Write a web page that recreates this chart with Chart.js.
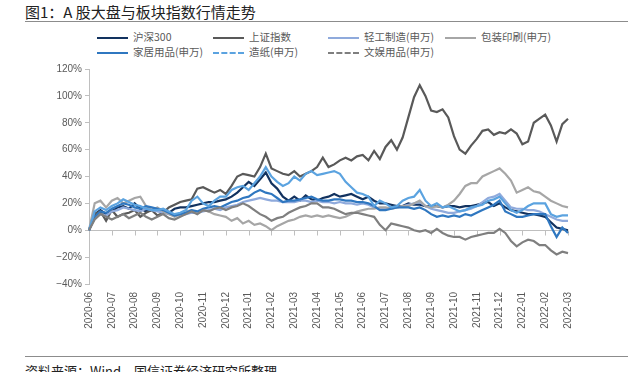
<!DOCTYPE html>
<html>
<head>
<meta charset="utf-8">
<script src="https://cdn.jsdelivr.net/npm/chart.js@4.4.0/dist/chart.umd.min.js"></script>
<style>
  body { margin:0; width:628px; height:372px; overflow:hidden; background:#fff; position:relative; font-family:"Noto Sans CJK SC", sans-serif; }
  #title { position:absolute; left:25px; top:2px; font-size:15px; line-height:20px; color:#222; white-space:nowrap; }
  .rule { position:absolute; left:25px; right:0; height:0; border-top:1px solid #8c8c8c; }
  .item { position:absolute; height:14px; line-height:14px; font-size:10.5px; color:#595959; white-space:nowrap; }
  .item i { display:inline-block; width:31px; height:0; border-top-width:2px; border-top-style:solid; vertical-align:middle; margin-right:5px; }
  #wrap { position:absolute; left:0; top:60px; width:628px; height:290px; }
  #footer { position:absolute; left:25px; top:363px; font-size:13px; line-height:16px; color:#222; white-space:nowrap; }
</style>
</head>
<body>
<div id="title">图1：A 股大盘与板块指数行情走势</div>
<div class="rule" style="top:21px"></div>
<div id="legend"></div>
<div id="wrap"><canvas id="chart"></canvas></div>
<div class="rule" style="top:356px"></div>
<div id="footer">资料来源：Wind，国信证券经济研究所整理</div>
<script>
// --- data (roughly weekly, 4 points per month, starting 2020-06) ---
const months = ['2020-06','2020-07','2020-08','2020-09','2020-10','2020-11','2020-12',
  '2021-01','2021-02','2021-03','2021-04','2021-05','2021-06','2021-07','2021-08',
  '2021-09','2021-10','2021-11','2021-12','2022-01','2022-02','2022-03'];
const yTicks = [-40, -20, 0, 20, 40, 60, 80, 100, 120];

const hs300 = [0,12,15,12, 14,17,18,16, 20,16,14,15, 16,15,13,16, 17,17,18,19, 20,21,21,22,
  23,25,28,32, 36,33,38,43, 35,31,25,22, 25,22,26,23, 22,24,25,27, 25,26,27,25,
  23,25,22,20, 20,19,18,18, 20,19,19,18, 18,18,17,18, 18,17,18,18, 19,20,21,18,
  20,17,15,14, 13,12,12,11, 10,6,2,1, 0];
const shIndex = [0,12,14,7, 15,10,12,13, 15,10,13,15, 11,13,17,19, 21,22,23,31, 32,30,28,30,
  27,33,40,42, 41,40,47,57, 46,44,42,41, 44,40,42,44, 47,54,47,49, 52,54,52,55,
  56,52,59,53, 62,67,60,69, 84,99,108,100, 89,88,90,84, 70,60,57,63, 68,74,75,71,
  73,72,75,72, 64,66,80,83, 86,78,66,79, 83];
const lightInd = [0,9,12,11, 14,15,17,16, 15,14,16,15, 14,13,12,11, 11,12,13,13, 14,15,16,15,
  17,18,19,21, 22,23,24,23, 22,22,21,21, 21,22,22,21, 22,21,21,20, 21,20,20,19,
  20,19,17,16, 16,17,17,18, 19,20,21,18, 16,15,14,13, 13,14,15,16, 18,21,24,25,
  27,22,17,16, 16,15,15,14, 12,10,8,7, 7];
const packing = [0,20,22,17, 22,24,20,22, 24,25,18,15, 17,14,12,10, 12,14,15,13, 15,14,12,11,
  10,7,9,5, 7,4,5,3, 0,3,5,7, 8,10,11,10, 11,10,11,10, 9,10,12,14,
  15,16,16,17, 17,16,17,18, 18,20,22,18, 17,18,17,19, 22,27,33,35, 35,40,42,44,
  46,42,37,28, 30,32,29,28, 25,22,20,18, 17];
const homeGoods = [0,10,14,13, 16,18,20,19, 17,16,18,17, 16,15,13,11, 12,13,15,14, 16,17,18,17,
  19,21,22,24, 25,28,30,28, 27,24,21,22, 22,23,24,25, 23,22,22,23, 23,22,22,21,
  21,20,18,15, 15,16,17,17, 17,16,17,15, 12,10,11,10, 11,10,12,11, 13,15,17,19,
  22,14,12,10, 10,11,12,12, 12,3,-5,2, -2];
const paper = [0,14,17,15, 18,20,23,21, 19,18,16,15, 15,16,14,12, 13,15,22,25, 20,18,22,25,
  25,30,32,33, 30,35,40,47, 40,36,33,35, 40,37,42,44, 41,42,43,44, 42,36,32,28,
  27,25,18,22, 20,17,18,22, 24,25,30,22, 18,20,17,18, 16,14,15,17, 18,19,22,23,
  25,20,15,13, 15,18,20,20, 20,12,10,11, 11];
const stationery = [0,8,12,10, 8,10,12,9, 11,13,10,8, 10,12,9,8, 10,12,14,12, 15,14,16,17,
  15,17,18,20, 18,15,12,10, 7,9,10,13, 15,17,18,20, 20,17,17,16, 14,12,13,13,
  12,11,10,4, 0,5,4,3, 2,0,-1,0, -2,1,-2,-4, -5,-5,-7,-5, -4,-3,-2,-2,
  1,-2,-8,-12, -9,-7,-8,-11, -11,-15,-18,-16, -17];

// one label per point, month name on the first point of each month
const dates = hs300.map((v, i) => i % 4 === 0 ? months[i / 4] : '');

const series = [
  { label: '沪深300', data: hs300, color: '#12325f', dash: false },
  { label: '上证指数', data: shIndex, color: '#595959', dash: false },
  { label: '轻工制造(申万)', data: lightInd, color: '#8faadc', dash: false },
  { label: '包装印刷(申万)', data: packing, color: '#a6a6a6', dash: false },
  { label: '家居用品(申万)', data: homeGoods, color: '#2f77c0', dash: false },
  { label: '造纸(申万)', data: paper, color: '#5ba3e0', dash: true },
  { label: '文娱用品(申万)', data: stationery, color: '#7f7f7f', dash: true }
];

// --- legend: 4 columns, 2 rows ---
const legendCols = [97, 213, 328, 445];
const legend = document.getElementById('legend');
series.forEach((s, i) => {
  const el = document.createElement('div');
  el.className = 'item';
  el.style.left = legendCols[i % 4] + 'px';
  el.style.top = (i < 4 ? 30 : 45) + 'px';
  el.innerHTML = '<i style="border-top-color:' + s.color + ';border-top-style:' +
    (s.dash ? 'dashed' : 'solid') + '"></i>' + s.label;
  legend.appendChild(el);
});

// x axis drawn along the 0% line with small ticks hanging down
const zeroAxis = {
  id: 'zeroAxis',
  beforeDatasetsDraw(chart) {
    const { ctx, chartArea, scales: { x, y } } = chart;
    const y0 = Math.round(y.getPixelForValue(0)) + 0.5;
    ctx.save();
    ctx.strokeStyle = '#bfbfbf';
    ctx.lineWidth = 1;
    ctx.beginPath();
    ctx.moveTo(chartArea.left, y0);
    ctx.lineTo(chartArea.right, y0);
    dates.forEach((d, i) => {
      if (!d) return;
      const px = Math.round(x.getPixelForValue(i)) + 0.5;
      ctx.moveTo(px, y0);
      ctx.lineTo(px, y0 + 5);
    });
    ctx.stroke();
    ctx.restore();
  }
};

const tickFont = { family: '"Liberation Sans", Arial, sans-serif', size: 10 };

new Chart(document.getElementById('chart'), {
  type: 'line',
  data: {
    labels: dates,
    datasets: series.map((s, i) => ({
      label: s.label,
      data: s.data,
      borderColor: s.color,
      backgroundColor: s.color,
      borderWidth: 2.2,
      pointRadius: 0,
      tension: 0,
      order: series.length - i
    }))
  },
  options: {
    responsive: true,
    maintainAspectRatio: false,
    animation: false,
    layout: { padding: { left: 29, right: 60, top: 8, bottom: 16 } },
    plugins: { legend: { display: false }, tooltip: { enabled: false } },
    scales: {
      x: {
        grid: { display: false, drawTicks: false },
        border: { display: false },
        afterFit: s => { s.height = 50; },
        ticks: {
          autoSkip: false,
          minRotation: 90,
          maxRotation: 90,
          padding: 8,
          color: '#595959',
          font: tickFont,
          callback: (v, i) => dates[i]
        }
      },
      y: {
        min: yTicks[0],
        max: yTicks[yTicks.length - 1],
        afterFit: s => { s.width = 60; },
        afterBuildTicks: s => { s.ticks = yTicks.map(v => ({ value: v })); },
        grid: { drawOnChartArea: false, drawTicks: true, tickLength: 4, color: '#bfbfbf' },
        border: { color: '#bfbfbf' },
        ticks: {
          padding: 3,
          color: '#595959',
          font: tickFont,
          callback: v => (v < 0 ? '−' + (-v) : v) + '%'
        }
      }
    }
  },
  plugins: [zeroAxis]
});
</script>
</body>
</html>
